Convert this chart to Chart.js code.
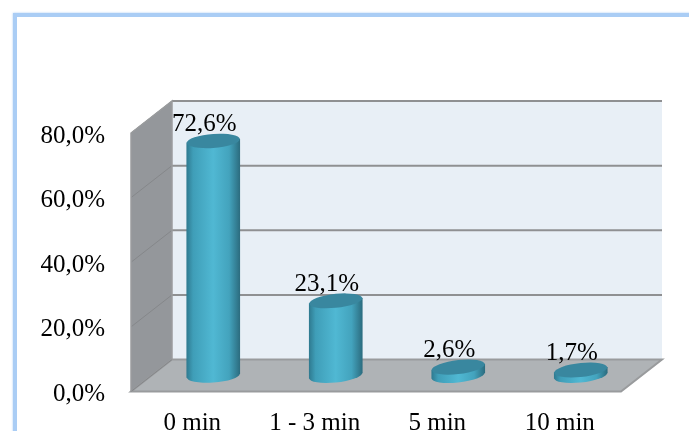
<!DOCTYPE html>
<html>
<head>
<meta charset="utf-8">
<script src="https://cdn.jsdelivr.net/npm/chart.js@4"></script>
<style>
  html, body { margin: 0; padding: 0; background: #fff; overflow: hidden; }
  #wrap { position: relative; width: 689px; height: 431px; overflow: hidden; }
  #frame {
    position: absolute; left: 13px; top: 13px; width: 800px; height: 600px;
    border: 4px solid #aacdf5; box-shadow: 0 0 2px #aacdf5;
  }
  canvas { position: absolute; left: 0; top: 0; }
</style>
</head>
<body>
<div id="wrap">
  <div id="frame"></div>
  <canvas id="chart" width="689" height="431"></canvas>
</div>
<script>
// ======================
// DATA
// ======================
const categories = ["0 min", "1 - 3 min", "5 min", "10 min"];
const percentValues = [72.6, 23.1, 2.6, 1.7];
const percentLabels = ["72,6%", "23,1%", "2,6%", "1,7%"];

// ======================
// 3D LOOK
// ======================
const DEPTH_X = 41;
const DEPTH_Y = -32;
const BAR_SHIFT_X = 21;
const BAR_SHIFT_Y = -16;
const CAP_RY = 7;
const barTilt = [-0.07, -0.1, -0.11, -0.1];
const FONT = '25px "Liberation Serif"';

function sideGradient(ctx, x, w) {
  const g = ctx.createLinearGradient(x - w / 2, 0, x + w / 2, 0);
  g.addColorStop(0, "#2f7b91");
  g.addColorStop(0.12, "#3f9eb8");
  g.addColorStop(0.5, "#50b8d3");
  g.addColorStop(0.8, "#43a3bd");
  g.addColorStop(1, "#2c6d80");
  return g;
}

// lean a cylinder around its own centre line
function shearAround(ctx, x, tilt) {
  ctx.transform(1, tilt, 0, 1, 0, -tilt * x);
}

const boxPlugin = {
  id: "box3d",
  beforeDatasetsDraw(chart) {
    const ctx = chart.ctx;
    const xs = chart.scales.x;
    const ys = chart.scales.y;
    const l = xs.left, r = xs.right;
    const y0 = ys.getPixelForValue(0);
    const yTop = ys.getPixelForValue(80);

    ctx.save();
    // back wall
    ctx.fillStyle = "#e8eff6";
    ctx.fillRect(l + DEPTH_X, yTop + DEPTH_Y, r - l, y0 - yTop);
    // left wall
    ctx.fillStyle = "#94979b";
    ctx.beginPath();
    ctx.moveTo(l, yTop);
    ctx.lineTo(l + DEPTH_X, yTop + DEPTH_Y);
    ctx.lineTo(l + DEPTH_X, y0 + DEPTH_Y);
    ctx.lineTo(l, y0);
    ctx.closePath();
    ctx.fill();
    // floor
    ctx.fillStyle = "#afb3b6";
    ctx.strokeStyle = "#999b9d";
    ctx.lineWidth = 2;
    ctx.beginPath();
    ctx.moveTo(l, y0);
    ctx.lineTo(r, y0);
    ctx.lineTo(r + DEPTH_X, y0 + DEPTH_Y);
    ctx.lineTo(l + DEPTH_X, y0 + DEPTH_Y);
    ctx.closePath();
    ctx.fill();
    ctx.stroke();
    // grid lines, back wall then the slanted part on the left wall
    ys.ticks.forEach(t => {
      const y = ys.getPixelForValue(t.value);
      if (t.value !== 0) {
        ctx.strokeStyle = "#8f9092";
        ctx.lineWidth = 2;
        ctx.beginPath();
        ctx.moveTo(l + DEPTH_X, y + DEPTH_Y);
        ctx.lineTo(r + DEPTH_X, y + DEPTH_Y);
        ctx.stroke();
      }
      ctx.strokeStyle = "#85878a";
      ctx.lineWidth = 1;
      ctx.beginPath();
      ctx.moveTo(l, y);
      ctx.lineTo(l + DEPTH_X, y + DEPTH_Y);
      ctx.stroke();
    });
    // left wall edges
    ctx.strokeStyle = "#9a9c9e";
    ctx.lineWidth = 1.5;
    ctx.beginPath();
    ctx.moveTo(l, y0);
    ctx.lineTo(l, yTop);
    ctx.lineTo(l + DEPTH_X, yTop + DEPTH_Y);
    ctx.lineTo(l + DEPTH_X, y0 + DEPTH_Y);
    ctx.stroke();
    ctx.restore();
  },
  beforeDatasetDraw(chart) {
    const ctx = chart.ctx;
    ctx.save();
    ctx.translate(BAR_SHIFT_X, BAR_SHIFT_Y);
    chart.getDatasetMeta(0).data.forEach((bar, i) => {
      // rounded foot of each cylinder
      ctx.save();
      shearAround(ctx, bar.x, barTilt[i]);
      ctx.fillStyle = sideGradient(ctx, bar.x, bar.width);
      ctx.beginPath();
      ctx.ellipse(bar.x, bar.base, bar.width / 2, CAP_RY, 0, 0, Math.PI * 2);
      ctx.fill();
      ctx.restore();
      // the bar body leans the same way
      bar.draw = function (c, area) {
        c.save();
        shearAround(c, this.x, barTilt[i]);
        Chart.BarElement.prototype.draw.call(this, c, area);
        c.restore();
      };
    });
  },
  afterDatasetDraw(chart) {
    const ctx = chart.ctx;
    chart.getDatasetMeta(0).data.forEach((bar, i) => {
      // top of the cylinder
      ctx.save();
      shearAround(ctx, bar.x, barTilt[i]);
      ctx.fillStyle = "#39879f";
      ctx.beginPath();
      ctx.ellipse(bar.x, bar.y, bar.width / 2, CAP_RY, 0, 0, Math.PI * 2);
      ctx.fill();
      ctx.restore();
    });
    ctx.restore();

    ctx.save();
    ctx.font = FONT;
    ctx.fillStyle = "#000";
    ctx.textAlign = "center";
    ctx.textBaseline = "alphabetic";
    chart.getDatasetMeta(0).data.forEach((bar, i) => {
      ctx.fillText(percentLabels[i], bar.x + 12, bar.y + BAR_SHIFT_Y - 10);
    });
    ctx.restore();
  }
};

// ======================
// CHART
// ======================
new Chart(document.getElementById("chart").getContext("2d"), {
  type: "bar",
  data: {
    labels: categories,
    datasets: [
      {
        data: percentValues,
        barThickness: 53,
        clip: false,
        borderWidth: 0,
        backgroundColor: c => {
          if (c.type !== "data") return "#50b8d3";
          const x = c.chart.scales.x.getPixelForValue(c.dataIndex);
          return Number.isFinite(x) ? sideGradient(c.chart.ctx, x, 53) : "#50b8d3";
        }
      }
    ]
  },
  options: {
    responsive: false,
    animation: false,
    layout: { padding: { top: 133, right: 68, left: 0, bottom: 0 } },
    plugins: {
      legend: { display: false },
      tooltip: { enabled: false }
    },
    scales: {
      x: {
        grid: { display: false },
        border: { display: false },
        afterFit: s => { s.height = 39.5; },
        ticks: {
          color: "#000",
          font: { family: "Liberation Serif", size: 25 },
          padding: 9,
          maxRotation: 0,
          autoSkip: false
        }
      },
      y: {
        min: 0,
        max: 80,
        grid: { display: false },
        border: { display: false },
        afterFit: s => { s.width = 131; },
        ticks: {
          stepSize: 20,
          color: "#000",
          padding: 18,
          labelOffset: 3,
          font: { family: "Liberation Serif", size: 25 },
          callback: v => v.toFixed(1).replace(".", ",") + "%"
        }
      }
    }
  },
  plugins: [boxPlugin]
});
</script>
</body>
</html>
